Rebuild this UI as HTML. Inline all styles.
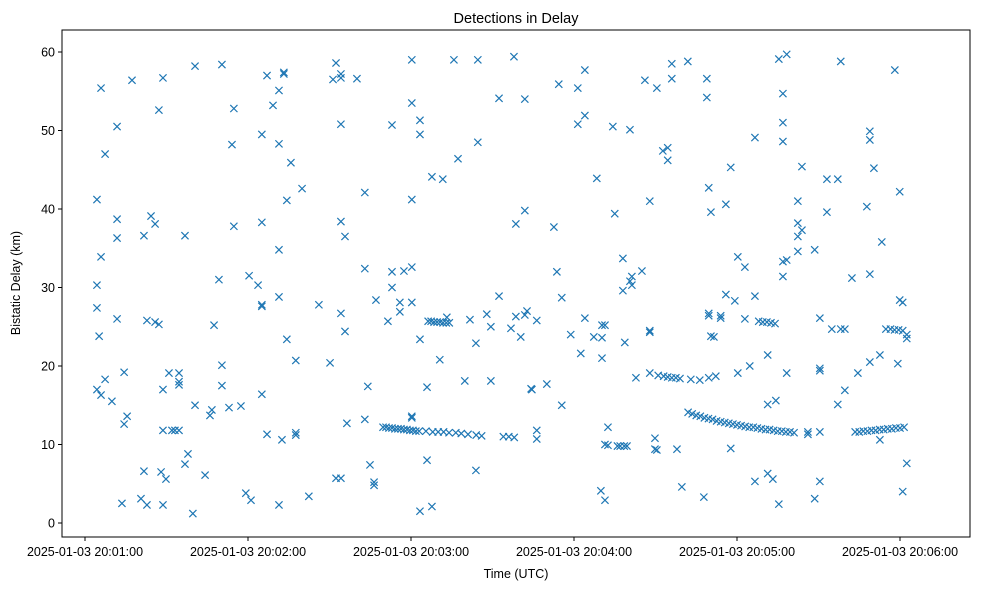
<!DOCTYPE html>
<html><head><meta charset="utf-8"><style>
html,body{margin:0;padding:0;background:#fff;}
svg{display:block;font-family:"Liberation Sans","DejaVu Sans",sans-serif;}
</style></head><body>
<svg id="chart" width="982" height="590" viewBox="0 0 982 590" xmlns="http://www.w3.org/2000/svg">
<rect width="982" height="590" fill="#fff"/>
<text x="516" y="23" text-anchor="middle" font-size="14.5">Detections in Delay</text>
<text x="516" y="578" text-anchor="middle" font-size="12.5">Time (UTC)</text>
<text transform="translate(20,283) rotate(-90)" text-anchor="middle" font-size="12.5">Bistatic Delay (km)</text>
<g id="ticks"></g>
<g id="marks"></g>
<rect x="62" y="30" width="908" height="507" fill="none" stroke="#000" stroke-width="1"/>
</svg>
<script>
// seconds after 20:00:00
const xTickValues = [60, 120, 180, 240, 300, 360];
const xTickLabels = ["2025-01-03 20:01:00","2025-01-03 20:02:00","2025-01-03 20:03:00","2025-01-03 20:04:00","2025-01-03 20:05:00","2025-01-03 20:06:00"];
const yTickValues = [0, 10, 20, 30, 40, 50, 60];
// [time (s after 20:00:00), delay (km)]
const points = [
[64.4,41.2],[64.4,30.3],[64.4,27.4],[64.4,17],[65.2,23.8],[65.9,16.3],[65.9,55.4],[65.9,33.9],[67.4,47],[67.4,18.3],
[69.9,15.5],[71.8,50.5],[71.8,38.7],[71.8,36.3],[71.8,26],[73.6,2.5],[74.4,19.2],[74.4,12.6],[75.5,13.6],[77.3,56.4],
[80.6,3.1],[81.7,36.6],[81.7,6.6],[82.8,25.8],[82.8,2.3],[84.3,39.1],[85.8,38.1],[85.8,25.6],[87.2,52.6],[87.2,25.3],
[88.0,6.5],[88.7,56.7],[88.7,17],[88.7,11.8],[88.7,2.3],[89.8,5.6],[90.9,19.1],[92.0,11.8],[93.1,11.8],[94.6,19.1],
[94.6,17.6],[94.6,11.8],[94.6,18],[96.8,36.6],[96.8,7.5],[97.9,8.8],[99.7,1.2],[100.5,58.2],[100.5,15],[104.2,6.1],
[106.0,13.7],[106.7,14.4],[107.5,25.2],[109.3,31],[110.4,58.4],[110.4,20.1],[110.4,17.5],[113.0,14.7],[114.1,48.2],[114.8,52.8],
[114.8,37.8],[117.4,14.9],[119.2,3.8],[120.4,31.5],[121.1,2.9],[123.7,30.3],[125.1,27.8],[125.1,27.6],[125.1,38.3],[125.1,49.5],
[125.1,16.4],[127.0,57],[127.0,11.3],[129.2,53.2],[131.4,55.1],[131.4,48.3],[131.4,34.8],[131.4,28.8],[131.4,2.3],[132.5,10.6],
[133.2,57.2],[133.2,57.4],[134.3,41.1],[134.3,23.4],[135.8,45.9],[137.6,11.5],[137.6,11.2],[137.6,20.7],[139.9,42.6],[142.4,3.4],
[146.1,27.8],[150.2,20.4],[151.3,56.5],[152.4,58.6],[152.4,5.7],[154.2,57.2],[154.2,56.7],[154.2,50.8],[154.2,38.4],[154.2,26.7],
[154.2,5.7],[155.7,36.5],[155.7,24.4],[156.4,12.7],[160.1,56.6],[163.0,42.1],[163.0,32.4],[163.0,13.2],[164.1,17.4],[164.9,7.4],
[166.4,5.2],[166.4,4.8],[167.1,28.4],[171.5,25.7],[173.0,50.7],[173.0,30],[173.0,32],[175.9,26.9],[175.9,28.1],[177.4,32.1],
[180.3,13.4],[180.3,13.6],[180.3,28.1],[180.3,32.6],[180.3,59],[180.3,41.2],[180.3,53.5],[183.3,51.3],[183.3,49.5],[183.3,23.4],
[183.3,1.5],[185.9,17.3],[185.9,8],[187.7,44.1],[187.7,2.1],[190.6,20.8],[191.7,43.8],[193.2,26.2],[195.8,59],[197.3,46.4],
[199.8,18.1],[201.7,25.9],[203.9,22.9],[203.9,6.7],[204.6,48.5],[204.6,59],[207.9,26.6],[209.4,18.1],[209.4,25],[212.4,54.1],
[212.4,28.9],[216.8,24.8],[217.9,59.4],[218.6,26.3],[218.6,38.1],[220.4,23.7],[221.9,39.8],[221.9,54],[221.9,26.5],[222.7,27],
[224.5,17],[224.2,17.1],[226.3,25.8],[226.3,11.8],[226.3,10.7],[230.0,17.7],[232.6,37.7],[233.7,32],[234.4,55.9],[235.5,15],[235.5,28.7],
[238.8,24],[241.4,55.4],[241.4,50.8],[242.5,21.6],[244.0,51.9],[244.0,57.7],[244.0,26.1],[247.3,23.7],[248.4,43.9],[249.9,4.1],
[250.3,25.2],[250.3,21],[250.3,23.6],[251.4,2.9],[251.4,10],[251.4,25.2],[252.5,12.2],[252.5,9.9],[254.3,50.5],[255.0,39.4],
[256.0,9.8],[257.0,9.8],[258.5,9.8],[259.5,9.8],[258.0,29.6],[258.0,33.7],[258.7,23],[260.6,50.1],[260.6,30.8],[261.3,31.4],
[261.3,30.3],[262.8,18.5],[265.0,32.1],[266.1,56.4],[267.9,41],[267.9,24.5],[267.9,24.3],[267.9,19.1],[269.8,10.8],[269.8,9.4],
[270.5,55.4],[270.5,9.3],[272.7,47.4],[274.5,46.2],[274.5,47.8],[276.0,56.6],[276.0,58.5],[277.9,9.4],[279.7,4.6],[281.9,58.8],
[286.3,18.2],[287.8,3.3],[288.9,54.2],[288.9,56.6],[289.6,42.7],[289.6,26.7],[289.6,26.4],[289.6,18.5],[290.4,39.6],[290.4,23.8],
[291.5,23.7],[292.2,18.7],[294.0,26.1],[294.0,26.4],[295.9,40.6],[295.9,29.1],[297.7,45.3],[297.7,9.5],[299.2,28.3],[300.3,33.9],
[300.3,19.1],[302.9,32.6],[302.9,26],[304.7,20],[306.6,49.1],[306.6,28.9],[306.6,5.3],[311.3,21.4],[311.3,15.1],[311.3,6.3],
[313.2,5.6],[314.3,15.6],[315.4,59.1],[315.4,2.4],[316.9,48.6],[316.9,51],[316.9,54.7],[316.9,33.3],[316.9,31.4],[318.3,59.7],
[318.3,33.5],[318.3,19.1],[322.4,38.2],[322.4,41],[322.4,36.5],[322.4,34.6],[323.9,37.3],[323.9,45.4],[326.1,11.6],[326.1,11.3],
[328.6,34.8],[328.6,3.1],[330.5,11.6],[330.5,5.3],[330.5,19.7],[330.5,19.4],[330.5,26.1],[333.1,43.8],[333.1,39.6],[334.9,24.7],
[337.1,43.8],[337.1,15.1],[338.2,58.8],[338.2,24.7],[339.7,16.9],[339.7,24.7],[342.3,31.2],[344.5,19.1],[347.8,40.3],[348.9,20.5],
[348.9,31.7],[348.9,49.9],[348.9,48.8],[350.4,45.2],[352.6,21.4],[352.6,10.6],[353.3,35.8],[358.1,57.7],[359.2,20.3],[359.9,42.2],
[359.9,28.4],[361.0,28.1],[361.0,4],[362.5,24],[362.5,23.5],[362.5,7.6],
[169.7,12.2],[170.8,12.2],[171.9,12.1],[173.0,12.1],[174.1,12.0],[175.2,12.0],[176.3,12.0],[177.4,11.9],[178.5,11.9],[179.6,11.8],[180.7,11.8],[181.8,11.7],
[183.0,11.7],[185.5,11.7],[188.0,11.6],[190.0,11.6],[192.0,11.6],[194.0,11.5],[196.5,11.5],[198.5,11.4],[201.0,11.3],[204.0,11.2],[206.0,11.1],[214.0,11.0],[216.0,11.0],[218.0,10.9],
[186.3,25.7],[187.4,25.7],[188.5,25.6],[189.6,25.6],[190.7,25.6],[191.8,25.5],[193.0,25.5],[194.1,25.5],
[271.0,18.8],[273.0,18.7],[274.5,18.6],[276.0,18.5],[277.5,18.5],[279.0,18.4],[283.0,18.3],
[282.0,14.1],[283.5,13.9],[285.0,13.7],[286.5,13.6],[288.0,13.4],[289.5,13.3],[291.0,13.2],[292.5,13.0],[294.0,12.9],[295.5,12.8],[297.0,12.7],[298.5,12.6],[300.0,12.5],[301.5,12.4],[303.0,12.3],[304.5,12.2],[306.0,12.2],[307.5,12.1],[309.0,12.0],[310.5,11.9],[312.0,11.9],[313.5,11.8],[315.0,11.7],[316.5,11.7],[318.0,11.6],[319.5,11.6],[321.0,11.5],
[308.0,25.7],[309.5,25.6],[311.0,25.6],[312.5,25.5],[314.0,25.4],
[343.5,11.6],[345.0,11.6],[346.5,11.7],[348.0,11.7],[349.5,11.8],[351.0,11.8],[352.5,11.9],[354.0,11.9],[355.5,12.0],[357.0,12.0],[358.5,12.1],[360.0,12.1],[361.5,12.2],
[354.8,24.7],[356.5,24.7],[358.0,24.6],[359.5,24.6],[361.0,24.5]
];
const NS='http://www.w3.org/2000/svg';
function xScale(t){return 85+(t-60)*163/60;}
function yScale(d){return 523-d*7.85;}
const ticks=document.getElementById('ticks');
const marks=document.getElementById('marks');
function mk(tag,attrs,parent){const e=document.createElementNS(NS,tag);for(const k in attrs)e.setAttribute(k,attrs[k]);parent.appendChild(e);return e;}
xTickValues.forEach((v,i)=>{
  const x=xScale(v);
  const l=mk('line',{x1:x,x2:x,y1:537,y2:541,stroke:'#000'},ticks);
  
  
  const t=mk('text',{x:x,y:556,'text-anchor':'middle','font-size':'12.5'},ticks);
  t.textContent=xTickLabels[i];
  
  
});
yTickValues.forEach(v=>{
  const y=yScale(v);
  const l=mk('line',{x1:58,x2:62,y1:y,y2:y,stroke:'#000'},ticks);
  
  
  const t=mk('text',{x:55,y:y+4.5,'text-anchor':'end','font-size':'12.5'},ticks);
  t.textContent=String(v);
  
  
});
points.forEach(p=>{
  const x=xScale(p[0]),y=yScale(p[1]),s=3.6;
  const pth=mk('path',{d:`M${x-s},${y-s}L${x+s},${y+s}M${x-s},${y+s}L${x+s},${y-s}`,stroke:'#1f77b4','stroke-width':'1.2',fill:'none'},marks);
  
  
});
</script>
</body></html>
